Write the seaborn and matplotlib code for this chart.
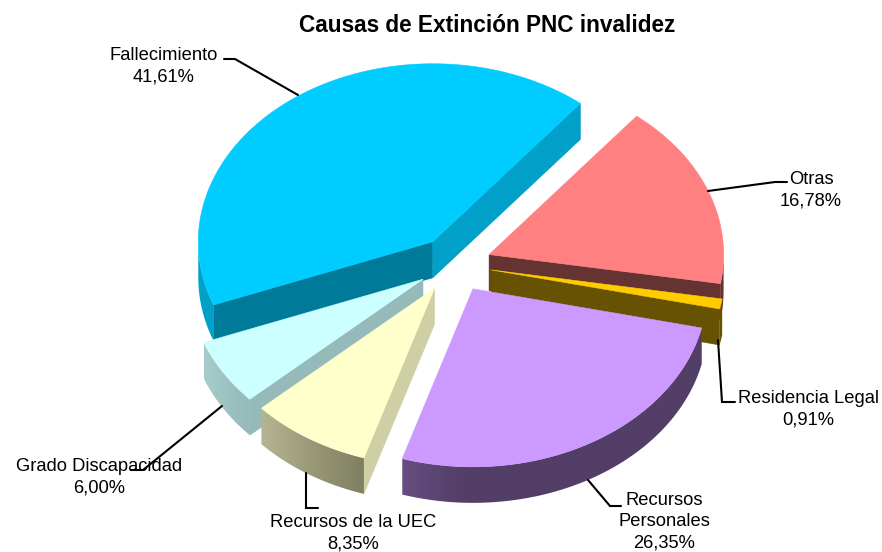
import numpy as np
import matplotlib
matplotlib.use("Agg")
import matplotlib.pyplot as plt
from matplotlib.patches import Polygon
import seaborn as sns

# ---- data ----
categories = ["Fallecimiento", "Otras", "Residencia Legal",
              "Recursos\nPersonales", "Recursos de la UEC", "Grado Discapacidad"]
values = [41.61, 16.78, 0.91, 26.35, 8.35, 6.00]
title = "Causas de Extinción PNC invalidez"

# ---- style ----
top_colors = ["#00CCFF", "#FF8080", "#FFCC00", "#CC99FF", "#FFFFCC", "#CCFFFF"]
cut_start = ["#007A99", "#994D4D", "#997A00", "#7A5C99", "#CFCFA6", "#96B9B9"]
cut_end = ["#00A0C8", "#663333", "#665200", "#523E66", "#999980", "#96B9B9"]
outer_from = ["#00A3CC", "#663333", "#665200", "#664D80", "#B5B594", "#A8CCCC"]
outer_mid = ["#00A0C8", "#663333", "#665200", "#523E66", "#999978", "#9CC2C2"]
outer_to = ["#00A0C8", "#663333", "#665200", "#523E66", "#7F7F62", "#96B9B9"]
draw_order = [0, 1, 2, 5, 4, 3]
label_xy = [(164, 66), (811, 190), (808, 409), (664, 522), (353, 533), (99, 477)]
leaders = [[(298, 95), (235, 59), (224, 59)],
           [(708, 191), (775, 182), (787, 182)],
           [(718, 340), (722, 402), (735, 402)],
           [(588, 480), (610, 506), (621, 506)],
           [(306, 473), (306, 508), (318, 508)],
           [(222, 406), (143, 470), (131, 470)]]

cx, cy = 454.5, 264.5
rx, ry = 234.5, 178
explode = 37
depth = 36
start_angle = -110.8

sns.set_theme(style="white")
plt.rcParams["font.family"] = ["Liberation Sans", "DejaVu Sans"]

fig, ax = plt.subplots(figsize=(8.82, 5.52), dpi=100)
ax.set_position([0, 0, 1, 1])
ax.axis("off")

edges = start_angle + np.concatenate([[0], np.cumsum(values)]) * 3.6


def point(ox, oy, t):
    r = np.radians(t)
    return ox + rx * np.sin(r), oy - ry * np.cos(r)


def poly(pts, color, z):
    ax.add_patch(Polygon(pts, closed=True, facecolor=color, edgecolor=color,
                         linewidth=0.4, zorder=z))


z = 1
for i in draw_order:
    t0, t1 = edges[i], edges[i + 1]
    mid = np.radians((t0 + t1) / 2)
    ox = cx + explode * np.sin(mid)
    oy = cy - explode * np.cos(mid) * ry / rx

    # cut faces
    if np.sin(np.radians(t0)) < 0:
        e = point(ox, oy, t0)
        poly([(ox, oy), e, (e[0], e[1] + depth), (ox, oy + depth)], cut_start[i], z)
    if np.sin(np.radians(t1)) > 0:
        e = point(ox, oy, t1)
        poly([(ox, oy), e, (e[0], e[1] + depth), (ox, oy + depth)], cut_end[i], z)

    # rim, a horizontal gradient clipped to the visible outer wall
    ts = np.linspace(t0, t1, max(int(t1 - t0), 2) * 2 + 1)
    vis = ts[np.cos(np.radians(ts)) <= 0.0]
    if len(vis) >= 2:
        upper = [point(ox, oy, t) for t in vis]
        lower = [(x, y + depth) for x, y in upper[::-1]]
        rim = upper + lower
        xs = [p[0] for p in rim]
        ys = [p[1] for p in rim]
        shades = sns.blend_palette([outer_from[i], outer_mid[i], outer_to[i]], 64)
        grad = np.array(shades)[None, :, :]
        if i == 3:
            # the lit end of this rim lies at the far left of its long arc
            grad = np.array(sns.blend_palette([outer_from[i], outer_mid[i], outer_to[i],
                                               outer_to[i], outer_to[i], outer_to[i]], 64))[None, :, :]
        im = ax.imshow(grad, extent=(min(xs), max(xs), max(ys), min(ys)),
                       aspect="auto", zorder=z, interpolation="bilinear")
        clip = Polygon(rim, closed=True, transform=ax.transData)
        im.set_clip_path(clip)

    # top
    arc = [point(ox, oy, t) for t in ts]
    poly([(ox, oy)] + arc, top_colors[i], z + 0.5)
    z += 1

ax.set_xlim(0, 882)
ax.set_ylim(552, 0)

for name, val, (lx, ly), path in zip(categories, values, label_xy, leaders):
    xs, ys = zip(*path)
    ax.plot(xs, ys, color="black", lw=1.5, zorder=20, solid_joinstyle="miter")
    ax.text(lx, ly, f"{name}\n{val:.2f}%".replace(".", ","), ha="center", va="center",
            fontsize=13.2, color="black", linespacing=1.33, zorder=21)

ax.text(487, 25, title, ha="center", va="center", fontsize=16.3,
        fontweight="bold", color="black", zorder=21)

fig.savefig("out.png", dpi=100, facecolor="white")
